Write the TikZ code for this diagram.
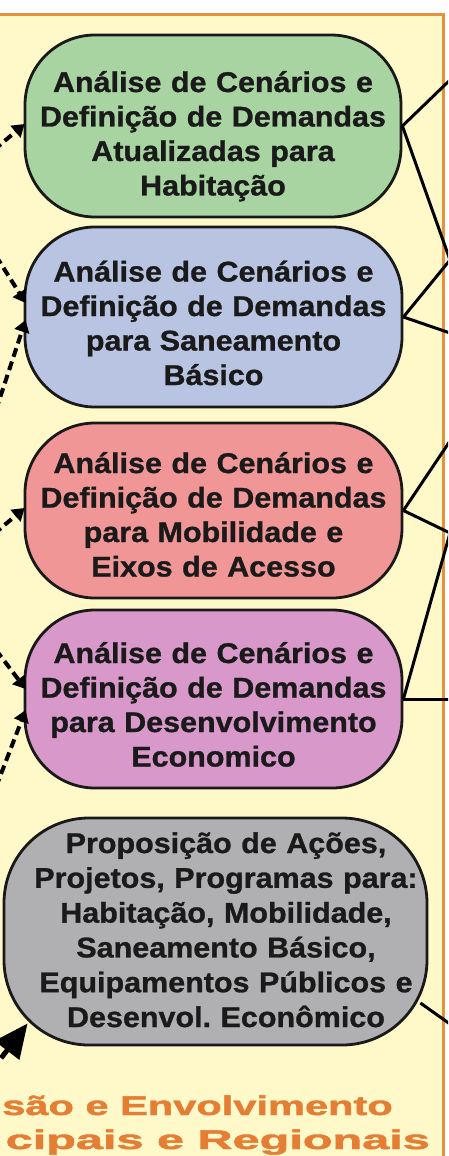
\documentclass[tikz,border=0pt]{standalone}
\usepackage{fontspec}
\setmainfont{Liberation Sans}
\newfontfamily\boxfont[FakeStretch=1.07,FakeBold=1]{Liberation Sans}
\newfontfamily\widefont[FakeBold=1.5]{Liberation Sans}
\usetikzlibrary{arrows.meta}
\definecolor{bgyellow}{HTML}{FFF8C9}
\definecolor{frameorange}{HTML}{E8913C}
\definecolor{cgreen}{HTML}{A8D4A2}
\definecolor{cblue}{HTML}{B8C4E2}
\definecolor{cred}{HTML}{F09696}
\definecolor{cmag}{HTML}{D898CA}
\definecolor{cgrey}{HTML}{B0B0B2}
\definecolor{txtdark}{HTML}{1A1A1A}
\definecolor{orangetext}{HTML}{E57E35}
\begin{document}
\frenchspacing
\begin{tikzpicture}[x=1pt,y=-1pt,
  box/.style={draw=black!90, line width=2.8pt, rounded corners=70pt, minimum width=376pt, minimum height=180pt, inner sep=0pt},
  boxtxt/.style={text=txtdark, font=\frenchspacing\boxfont\bfseries\fontsize{28.5}{34.5}\selectfont, text width=420pt, align=center, inner sep=0pt, anchor=base},
  dasharrow/.style={line width=4pt, dash pattern=on 9pt off 5pt, -{Triangle[length=12pt,width=15pt]}},
  bigarrow/.style={line width=5pt, dash pattern=on 10pt off 5pt, -{Triangle[length=34pt,width=30pt]}},
  link/.style={line width=3pt, black},
  orangetxt/.style={text=orangetext, font=\widefont\bfseries\fontsize{27}{30}\selectfont, inner sep=0pt}]
\useasboundingbox (0,0) rectangle (448,1156);
\clip (0,0) rectangle (448,1156);
\fill[white] (0,0) rectangle (448,1156);
\fill[bgyellow] (-10,15) rectangle (443,1170);
\draw[frameorange, line width=3pt] (-10,15) -- (443,15) -- (443,1170);

\node[box, fill=cgreen, minimum height=182pt] (b1) at (213,126) {};
\node[boxtxt] (t1) at (213,92) {Análise de Cenários e\\Definição de Demandas\\Atualizadas para\\Habitação};
\node[box, fill=cblue, minimum width=377pt] (b2) at (213.5,317) {};
\node[boxtxt] (t2) at (213.5,281.5) {Análise de Cenários e\\Definição de Demandas\\para Saneamento\\Básico};
\node[box, fill=cred, minimum width=377pt, minimum height=175pt] (b3) at (213.5,510.5) {};
\node[boxtxt] (t3) at (213.5,473) {Análise de Cenários e\\Definição de Demandas\\para Mobilidade e\\Eixos de Acesso};
\node[box, fill=cmag, minimum width=377pt, minimum height=178pt] (b4) at (213.5,699) {};
\node[boxtxt] (t4) at (213.5,663) {Análise de Cenários e\\Definição de Demandas\\para Desenvolvimento\\Economico};
\node[box, fill=cgrey, minimum width=423pt, minimum height=227pt, rounded corners=85pt] (b5) at (215.5,931.5) {};
\node[boxtxt, font=\frenchspacing\boxfont\bfseries\fontsize{28.5}{34.8}\selectfont] (t5) at (226,853) {Proposição de Ações,\\Projetos, Programas para:\\Habitação, Mobilidade,\\Saneamento Básico,\\Equipamentos Públicos e\\Desenvol.\ Econômico};

% left incoming arrows
\coordinate (s1) at (-6,150);
\coordinate (s2a) at (-4,256);
\coordinate (s2b) at (-4,410);
\coordinate (s3) at (-6,534);
\coordinate (s4a) at (-4,650);
\coordinate (s4b) at (-4,787);
\coordinate (s5) at (-8,1070);
\draw[dasharrow] (s1) -- ([shift={(1,-2)}]b1.west);
\draw[dasharrow] (s2a) -- ([shift={(2,-14)}]b2.west);
\draw[dasharrow] (s2b) -- ([shift={(2,3)}]b2.west);
\draw[dasharrow] (s3) -- ([shift={(1,-2.5)}]b3.west);
\draw[dasharrow] (s4a) -- ([shift={(2,-10)}]b4.west);
\draw[dasharrow] (s4b) -- ([shift={(2,11)}]b4.west);
\draw[bigarrow] (s5) -- ([shift={(25,-23)}]b5.south west);

% right outgoing links
\coordinate (e1) at (450,80);
\coordinate (e12) at (450,260);
\coordinate (e2) at (450,333);
\coordinate (e3) at (450,441);
\coordinate (e34) at (450,533);
\coordinate (e4) at (450,699);
\coordinate (e5) at (450,1024);
\draw[link] (b1.east) -- (e1);
\draw[link] (b1.east) -- (e12);
\draw[link] (b2.east) -- (e12);
\draw[link] (b2.east) -- (e2);
\draw[link] (b3.east) -- (e3);
\draw[link] (b3.east) -- (e34);
\draw[link] (b4.east) -- (e34);
\draw[link] (b4.east) -- (e4);
\draw[link] ([shift={(-8,71.5)}]b5.east) -- (e5);

\node[orangetxt, anchor=base east] (o1) at (393,1115) {\scalebox{1.54}[1]{são e Envolvimento}};
\node[orangetxt, anchor=base east] (o2) at (430,1149) {\scalebox{1.8}[1]{cipais e Regionais}};
\end{tikzpicture}
\end{document}
